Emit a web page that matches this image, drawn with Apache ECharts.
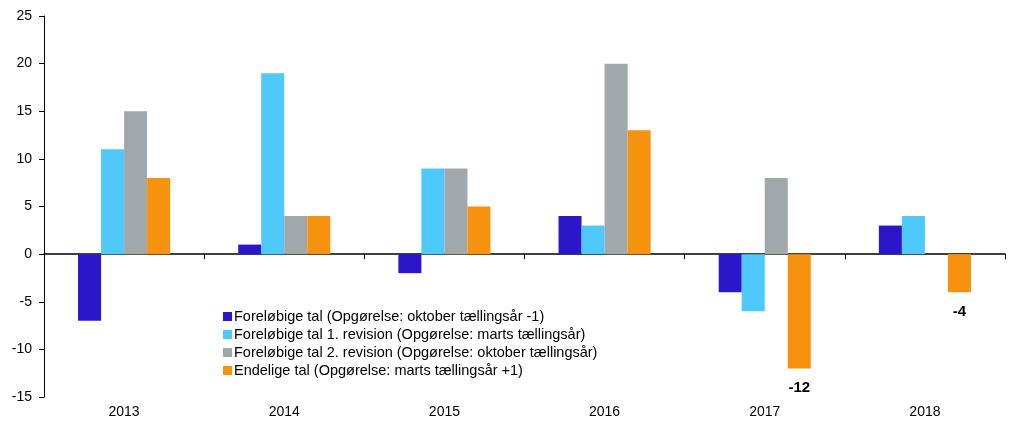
<!DOCTYPE html>
<html><head><meta charset="utf-8">
<script src="https://cdn.jsdelivr.net/npm/echarts@6/dist/echarts.min.js"></script>
<style>html,body{margin:0;padding:0;background:#fff}#c{width:1014px;height:429px}</style>
</head><body><div id="c"></div>
<script>
var categories = ['2013','2014','2015','2016','2017','2018'];
var seriesNames = [
  'Foreløbige tal (Opgørelse: oktober tællingsår -1)',
  'Foreløbige tal 1. revision (Opgørelse: marts tællingsår)',
  'Foreløbige tal 2. revision (Opgørelse: oktober tællingsår)',
  'Endelige tal (Opgørelse: marts tællingsår +1)'
];
var prelim = [-7, 1, -2, 4, -4, 3];
var rev1 = [11, 19, 9, 3, -6, 4];
var rev2 = [15, 4, 9, 20, 8, null];
var final = [8, 4, 5, 13, -12, -4];
var finalLabelled = [false, false, false, false, true, true];
var colors = ['#2b17c9', '#4fc9fb', '#a1a8ab', '#f7920f'];

var font = 'Liberation Sans, Arial, sans-serif';
var chart = echarts.init(document.getElementById('c'));
var all = [prelim, rev1, rev2, final];
var series = all.map(function (arr, i) {
  return {
    name: seriesNames[i],
    type: 'bar',
    xAxisIndex: 0,
    barGap: '0%',
    barCategoryGap: '42.5%',
    itemStyle: {color: colors[i]},
    data: arr.map(function (v, j) {
      if (i === 3 && finalLabelled[j]) {
        return {value: v, label: {show: true, position: 'bottom', distance: 12,
          fontWeight: 'bold', fontSize: 15, color: '#000', fontFamily: font}};
      }
      return v;
    })
  };
});
chart.setOption({
  animation: false,
  grid: {left: 44, right: 9, top: 16, bottom: 32},
  legend: {
    orient: 'vertical', left: 218, top: 304,
    itemWidth: 9, itemHeight: 9, itemGap: 3,
    icon: 'rect',
    textStyle: {fontFamily: font, fontSize: 14.5, color: '#000', padding: [0,0,0,-3]},
    data: seriesNames
  },
  xAxis: [{
    type: 'category', data: categories, position: 'bottom',
    axisLine: {show: false, onZero: false}, axisTick: {show: false},
    axisLabel: {fontFamily: font, fontSize: 14, color: '#000', margin: 8}
  }, {
    type: 'category', data: categories, position: 'top',
    axisLine: {show: true, onZero: true, lineStyle: {color: '#000', width: 1.5}},
    axisTick: {show: true, inside: true, length: 5, lineStyle: {color: '#000'}},
    axisLabel: {show: false}
  }],
  yAxis: {
    type: 'value', min: -15, max: 25, interval: 5,
    axisLine: {show: true, lineStyle: {color: '#000'}},
    axisTick: {show: true, length: 5, lineStyle: {color: '#000'}},
    splitLine: {show: false},
    axisLabel: {fontFamily: font, fontSize: 14, color: '#000', margin: 12}
  },
  series: series
});
</script></body></html>
